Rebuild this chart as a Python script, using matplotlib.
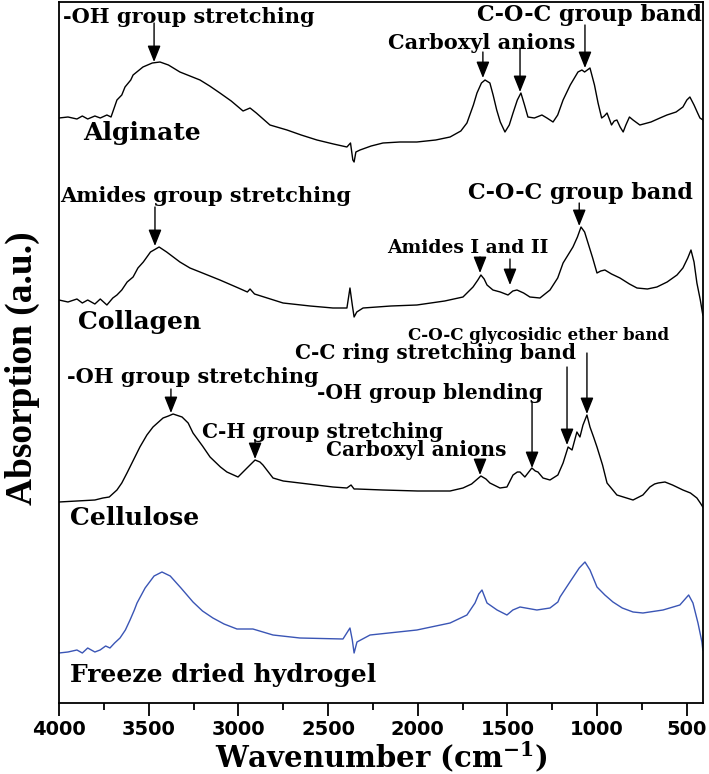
import matplotlib
matplotlib.use("Agg")
import matplotlib.pyplot as plt
import numpy as np

plt.rcParams['mathtext.fontset'] = 'dejavuserif'

# ---------------- data (wavenumber cm-1, absorption a.u.) ----------------
alg_w = [4000, 3950, 3900, 3870, 3840, 3800, 3770, 3733, 3710, 3677, 3650, 3632, 3600, 3587, 3532, 3480,
         3437, 3390, 3326, 3270, 3214, 3160, 3103, 3040, 2974, 2935, 2900, 2824, 2729, 2650, 2562, 2470,
         2395, 2375, 2362, 2355, 2345, 2322, 2260, 2194, 2100, 2005, 1900, 1820, 1760, 1726, 1690, 1670,
         1645, 1625, 1598, 1580, 1560, 1540, 1514, 1490, 1469, 1445, 1425, 1405, 1386, 1350, 1308, 1280,
         1246, 1220, 1190, 1150, 1107, 1085, 1070, 1055, 1040, 1015, 995, 975, 960, 945, 930, 920, 905,
         890, 872, 855, 840, 820, 800, 762, 700, 650, 611, 560, 522, 500, 483, 460, 440, 427, 410]
alg_a = [5.85, 5.86, 5.84, 5.87, 5.84, 5.87, 5.85, 5.88, 5.86, 6.03, 6.08, 6.16, 6.23, 6.28, 6.36, 6.40,
         6.41, 6.38, 6.31, 6.27, 6.23, 6.17, 6.10, 6.02, 5.92, 5.95, 5.90, 5.78, 5.73, 5.68, 5.63, 5.59,
         5.56, 5.60, 5.43, 5.41, 5.51, 5.53, 5.57, 5.60, 5.61, 5.61, 5.63, 5.66, 5.72, 5.80, 5.98, 6.10,
         6.20, 6.23, 6.20, 6.08, 5.93, 5.81, 5.71, 5.78, 5.90, 6.03, 6.10, 5.98, 5.86, 5.85, 5.88, 5.85,
         5.81, 5.88, 6.03, 6.18, 6.31, 6.33, 6.31, 6.33, 6.35, 6.18, 6.00, 5.85, 5.87, 5.90, 5.83, 5.78, 5.82,
         5.83, 5.76, 5.71, 5.78, 5.86, 5.83, 5.78, 5.81, 5.85, 5.88, 5.91, 5.96, 6.03, 6.06, 5.98, 5.90, 5.85, 5.83]

col_w = [4000, 3950, 3900, 3870, 3840, 3800, 3770, 3733, 3700, 3677, 3650, 3620, 3587, 3560, 3530, 3490,
         3442, 3400, 3326, 3270, 3214, 3103, 3000, 2950, 2935, 2910, 2751, 2600, 2473, 2395, 2378, 2365,
         2355, 2340, 2305, 2150, 2005, 1850, 1748, 1692, 1665, 1648, 1630, 1614, 1581, 1540, 1497, 1470,
         1447, 1410, 1375, 1319, 1263, 1220, 1190, 1135, 1110, 1090, 1070, 1051, 1025, 1001, 980, 957,
         920, 873, 820, 778, 720, 667, 610, 555, 522, 495, 477, 460, 444, 425, 411]
col_a = [4.03, 4.01, 4.04, 4.00, 4.03, 3.99, 4.04, 3.98, 4.05, 4.08, 4.13, 4.21, 4.26, 4.35, 4.41, 4.51,
         4.56, 4.51, 4.41, 4.35, 4.31, 4.23, 4.15, 4.11, 4.14, 4.09, 4.00, 3.97, 3.95, 3.95, 4.15, 3.98,
         3.86, 3.91, 3.95, 3.97, 3.98, 4.02, 4.06, 4.16, 4.23, 4.28, 4.24, 4.18, 4.13, 4.11, 4.08, 4.12,
         4.13, 4.10, 4.06, 4.05, 4.13, 4.25, 4.40, 4.56, 4.66, 4.76, 4.71, 4.60, 4.45, 4.30, 4.32, 4.33,
         4.29, 4.25, 4.19, 4.15, 4.14, 4.16, 4.21, 4.28, 4.35, 4.45, 4.53, 4.41, 4.20, 4.03, 3.88]

cel_w = [4000, 3900, 3800, 3755, 3720, 3677, 3650, 3621, 3585, 3549, 3510, 3476, 3420, 3390, 3364, 3314,
         3280, 3253, 3200, 3158, 3100, 3064, 3002, 2952, 2907, 2880, 2863, 2807, 2750, 2657, 2473, 2395,
         2372, 2355, 2339, 2194, 2000, 1820, 1748, 1700, 1648, 1620, 1598, 1542, 1503, 1469, 1445, 1430,
         1403, 1364, 1345, 1330, 1302, 1263, 1219, 1190, 1162, 1140, 1113, 1096, 1079, 1057, 1040, 1020,
         1001, 970, 945, 890, 800, 745, 706, 680, 660, 622, 580, 522, 480, 444, 425, 411]
cel_a = [2.01, 2.02, 2.03, 2.05, 2.06, 2.13, 2.20, 2.30, 2.43, 2.56, 2.68, 2.76, 2.85, 2.87, 2.89, 2.86,
         2.80, 2.70, 2.57, 2.46, 2.36, 2.31, 2.26, 2.35, 2.43, 2.41, 2.38, 2.25, 2.22, 2.20, 2.16, 2.15,
         2.18, 2.14, 2.14, 2.13, 2.12, 2.12, 2.15, 2.19, 2.27, 2.24, 2.20, 2.15, 2.16, 2.28, 2.31, 2.31,
         2.26, 2.35, 2.32, 2.31, 2.25, 2.23, 2.28, 2.40, 2.56, 2.53, 2.71, 2.66, 2.78, 2.88, 2.76, 2.66,
         2.56, 2.38, 2.20, 2.08, 2.03, 2.08, 2.16, 2.19, 2.20, 2.21, 2.18, 2.13, 2.10, 2.05, 2.00, 1.96]

fdh_w = [4000, 3950, 3900, 3870, 3840, 3800, 3771, 3740, 3716, 3690, 3660, 3630, 3604, 3580, 3565, 3520,
         3470, 3426, 3380, 3320, 3253, 3200, 3142, 3080, 3008, 2919, 2807, 2657, 2417, 2378, 2365, 2355,
         2339, 2266, 2005, 1820, 1726, 1681, 1660, 1642, 1614, 1558, 1503, 1470, 1430, 1336, 1263, 1219,
         1207, 1152, 1100, 1068, 1040, 1001, 957, 912, 860, 800, 745, 633, 539, 490, 466, 438, 416, 411]
fdh_a = [0.50, 0.51, 0.53, 0.50, 0.55, 0.51, 0.53, 0.57, 0.55, 0.60, 0.65, 0.73, 0.83, 0.93, 1.00, 1.15,
         1.27, 1.31, 1.27, 1.15, 1.01, 0.92, 0.85, 0.79, 0.74, 0.74, 0.68, 0.65, 0.64, 0.75, 0.63, 0.50,
         0.61, 0.68, 0.73, 0.80, 0.88, 1.00, 1.09, 1.13, 1.00, 0.93, 0.88, 0.93, 0.96, 0.93, 0.95, 1.01,
         1.06, 1.21, 1.35, 1.41, 1.33, 1.16, 1.08, 1.01, 0.95, 0.91, 0.90, 0.93, 0.98, 1.08, 1.00, 0.80, 0.61, 0.53]

sample_names = ["Alginate", "Collagen", "Cellulose", "Freeze dried hydrogel"]
x_ticks = [4000, 3500, 3000, 2500, 2000, 1500, 1000, 500]

# ---------------- figure ----------------
W, H = 709, 774
fig = plt.figure(figsize=(W / 100, H / 100), dpi=100)
ax = fig.add_axes([59 / W, 1 - 703 / H, 644 / W, 701 / H])

ax.plot(alg_w, alg_a, color='black', lw=1.0)
ax.plot(col_w, col_a, color='black', lw=1.0)
ax.plot(cel_w, cel_a, color='black', lw=1.0)
ax.plot(fdh_w, fdh_a, color='#3a55b5', lw=1.0)

ax.set_xlim(4000, 410)
ax.set_ylim(0, 7.01)
ax.set_yticks([])
ax.set_xticks(x_ticks)
ax.set_xticks(np.arange(4000, 400, -250), minor=True)
ax.tick_params(axis='x', which='major', direction='out', length=9, width=1.3, pad=3)
ax.tick_params(axis='x', which='minor', direction='out', length=5, width=1.3)
for lab in ax.get_xticklabels():
    lab.set_fontfamily('DejaVu Sans')
    lab.set_fontweight('bold')
    lab.set_fontsize(14)
for s in ax.spines.values():
    s.set_linewidth(1.3)

fig.text(381 / W, 1 - 767 / H, r'Wavenumber (cm$^{\mathbf{-1}}$)', fontfamily='DejaVu Serif',
         fontweight='bold', fontsize=21, ha='center', va='baseline')
fig.text(22 / W, 1 - 368 / H, 'Absorption (a.u.)', fontfamily=['Liberation Serif', 'DejaVu Serif'],
         fontweight='bold', fontsize=27, rotation=90, ha='center', va='center')

serif = dict(fontfamily='DejaVu Serif', fontweight='bold', va='center')

# sample labels
label_pos = [(3866, 5.70), (3894, 3.81), (3939, 1.85), (3939, 0.28)]
for name, (xw, ya) in zip(sample_names, label_pos):
    ax.text(xw, ya, name, fontsize=18, ha='left', **serif)

arrow = dict(arrowstyle='-|>,head_length=0.5,head_width=0.2', color='black', lw=1.0,
             shrinkA=0, shrinkB=0, mutation_scale=20)

def note(text, tx, ty, size, ha='left'):
    ax.text(tx, ty, text, fontsize=size, ha=ha, **serif)

def arr(xw, y0, y1):
    ax.annotate('', xy=(xw, y1), xytext=(xw, y0), arrowprops=arrow)

# Alginate
note('-OH group stretching', 3978, 6.86, 15)
arr(3470, 6.80, 6.41)
note('Carboxyl anions', 2166, 6.60, 15)
arr(1637, 6.51, 6.25)
arr(1430, 6.55, 6.11)
note('C-O-C group band', 1670, 6.88, 16)
arr(1068, 6.78, 6.35)

# Collagen
note('Amides group stretching', 3994, 5.07, 15)
arr(3465, 4.96, 4.57)
note('C-O-C group band', 1720, 5.10, 16)
arr(1100, 5.00, 4.77)
note('Amides I and II', 2172, 4.55, 13.5)
arr(1653, 4.46, 4.30)
arr(1486, 4.44, 4.18)

# Cellulose
note('C-O-C glycosidic ether band', 2055, 3.67, 12)
arr(1057, 3.50, 2.89)
note('C-C ring stretching band', 2685, 3.50, 14.5)
arr(1168, 3.36, 2.58)
note('-OH group stretching', 3955, 3.26, 15)
arr(3376, 3.14, 2.90)
note('-OH group blending', 1300, 3.10, 14.5, ha='right')
arr(1363, 3.01, 2.35)
note('C-H group stretching', 3203, 2.71, 14.5)
arr(2907, 2.63, 2.44)
note('Carboxyl anions', 1508, 2.53, 14.5, ha='right')
arr(1653, 2.43, 2.28)

fig.savefig('out.png', dpi=100)
